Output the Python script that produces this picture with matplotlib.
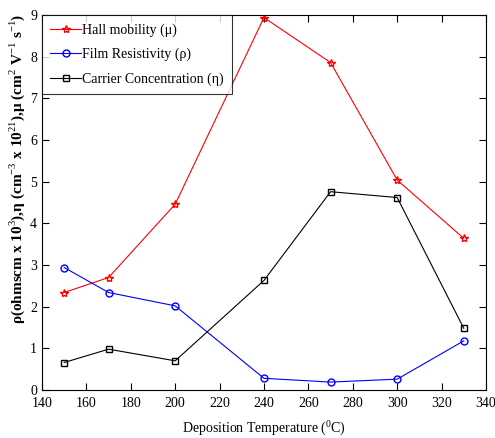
import matplotlib
matplotlib.use("Agg")
import matplotlib.pyplot as plt

temps = [150, 170, 200, 240, 270, 300, 330]
hall_mobility = [2.34, 2.70, 4.46, 8.94, 7.86, 5.04, 3.64]
resistivity = [2.94, 2.34, 2.02, 0.28, 0.19, 0.26, 1.18]
carrier_conc = [0.66, 0.98, 0.70, 2.63, 4.76, 4.62, 1.48]

plt.rcParams["font.family"] = ["Liberation Serif", "DejaVu Serif"]
plt.rcParams["mathtext.fontset"] = "custom"
plt.rcParams["mathtext.rm"] = "Liberation Serif"

fig = plt.figure(figsize=(4.95, 4.38), dpi=100)
ax = fig.add_axes([0.0848, 0.1096, 0.897, 0.856])

ax.plot(temps, hall_mobility, "-*", color="red", lw=0.8, ms=6, mfc="none",
        label="Hall mobility (\u03bc)")
ax.plot(temps, resistivity, "-o", color="blue", lw=0.8, ms=5, mfc="none",
        label="Film Resistivity (\u03c1)")
ax.plot(temps, carrier_conc, "-s", color="black", lw=0.8, ms=5, mfc="none",
        label="Carrier Concentration (\u03b7)")

ax.set_xlim(140, 340)
ax.set_ylim(0, 9)
ax.set_xticks(range(140, 341, 20))
ax.set_yticks(range(0, 10))
ax.tick_params(direction="in", top=True, right=True, labelsize=10, length=5)
ax.tick_params(axis="x", pad=5)
for s in ax.spines.values():
    s.set_linewidth(0.8)

ax.set_xlabel("Deposition Temperature ($^{0}$C)", fontsize=10, labelpad=6)
ax.set_ylabel("\u03c1(ohmscm x 10$^{3}$),\u03b7 (cm$^{-3}$ x 10$^{21}$),\u03bc (cm$^{2}$ V$^{-1}$ s$^{-1}$)",
              fontsize=11, fontweight="bold")
ax.yaxis.set_label_coords(-0.034, 0.59)

leg = ax.legend(loc="upper left", fontsize=10, frameon=True, fancybox=False,
                edgecolor="black", borderaxespad=0, handlelength=2.2,
                handletextpad=0.1, borderpad=0.6, labelspacing=0.8)
leg.get_frame().set_linewidth(0.8)

fig.savefig("out.png", dpi=100)
